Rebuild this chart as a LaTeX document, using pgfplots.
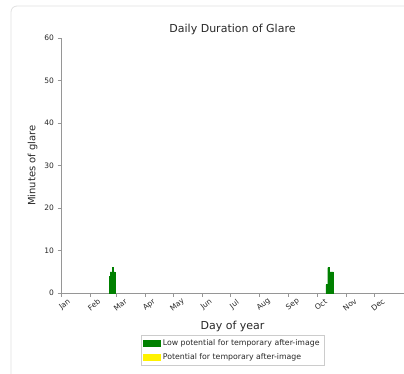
\documentclass[border=0pt]{standalone}
\usepackage{fontspec}
\setmainfont{DejaVu Sans}
\usepackage{pgfplots}
\pgfplotsset{compat=1.18}
\definecolor{mplgreen}{RGB}{0,128,0}
\definecolor{spine}{RGB}{150,150,150}
\definecolor{txt}{RGB}{40,40,40}
\begin{document}
\begin{tikzpicture}
\begin{axis}[
  scale only axis, width=343pt, height=255pt,
  xmin=1, xmax=367, ymin=0, ymax=60,
  axis lines=left, axis line style={-, spine, line width=0.8pt},
  tick align=outside, major tick length=3.5pt,
  tick style={spine, line width=0.6pt},
  xtick={1,32,60,91,121,152,182,213,244,274,305,335},
  xticklabels={Jan,Feb,Mar,Apr,May,Jun,Jul,Aug,Sep,Oct,Nov,Dec},
  ytick={0,10,20,30,40,50,60},
  /pgf/number format/assume math mode=true,
  ticklabel style={font=\fontsize{7.5}{9}\selectfont, text=txt},
  xticklabel style={rotate=38, anchor=center, yshift=-9pt, xshift=-2pt, inner sep=0pt},
  title={Daily Duration of Glare},
  title style={font=\fontsize{11}{13}\selectfont, text=txt, yshift=-6pt},
  xlabel={Day of year},
  xlabel style={font=\fontsize{11}{13}\selectfont, text=txt, yshift=-5pt},
  ylabel={Minutes of glare},
  ylabel style={font=\fontsize{10}{12}\selectfont, text=txt},
  ybar, bar width=1, bar shift=0pt,
  legend style={at={(0.5,-0.165)}, anchor=north, draw=black!20,
    font=\fontsize{7.8}{9}\selectfont, text=txt, cells={anchor=west},
    row sep=2pt, inner sep=2.5pt},
]
\coordinate (O) at (rel axis cs:0,0);
\addplot[forget plot, fill=mplgreen, draw=mplgreen, line width=0.2pt] coordinates {
 (53,4) (54,5) (55,5) (56,6) (57,5) (58,5)
 (284,2) (285,2) (286,6) (287,6) (288,5) (289,5) (290,5) (291,5)
};
\addlegendimage{legend image code/.code={\fill[mplgreen] (0pt,-3pt) rectangle (17pt,3pt);}}
\addlegendentry{Low potential for temporary after-image}
\addlegendimage{legend image code/.code={\fill[yellow] (0pt,-3pt) rectangle (17pt,3pt);}}
\addlegendentry{Potential for temporary after-image}
\end{axis}
\pgfresetboundingbox
\useasboundingbox ([shift={(-61pt,-80pt)}]O) rectangle ([shift={(343pt,293pt)}]O);
\draw[rounded corners=6pt, draw=black!12, line width=0.8pt] ([shift={(-50pt,-100pt)}]O) rectangle ([shift={(360pt,287pt)}]O);
\end{tikzpicture}
\end{document}
